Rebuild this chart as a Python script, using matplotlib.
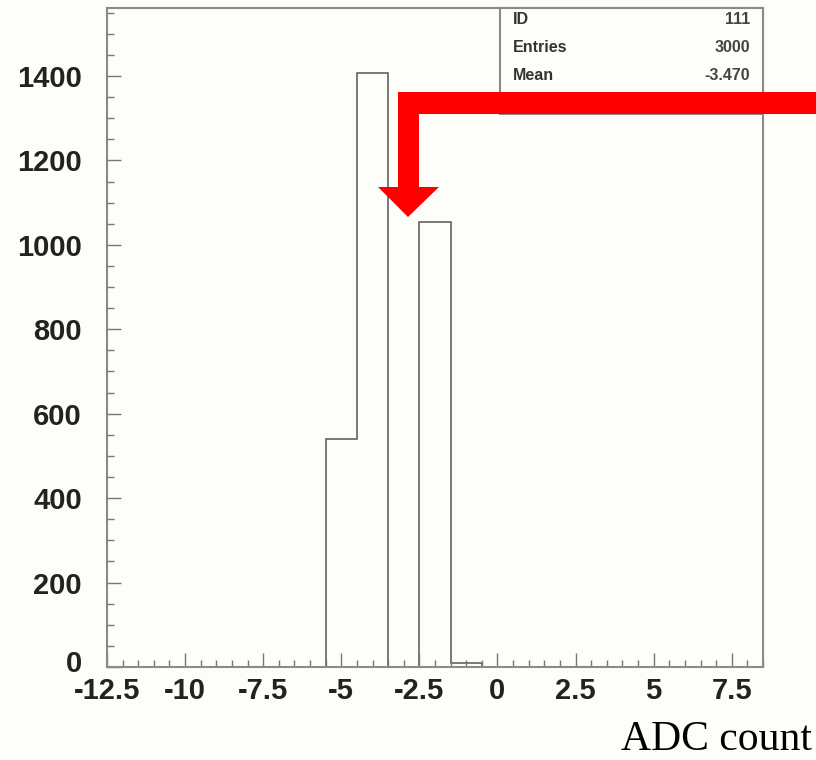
import numpy as np
import matplotlib
matplotlib.use("Agg")
import matplotlib.pyplot as plt
import matplotlib.transforms as mtransforms
from matplotlib.patches import Polygon, Rectangle

# histogram contents (ADC count bins, width 1)
bin_edges = [-5.5, -4.5, -3.5, -2.5, -1.5, -0.5]
counts = [540, 1406, 0, 1055, 10]

# stats box
stat_names = ["ID", "Entries", "Mean"]
stat_values = ["111", "3000", "-3.470"]

xticks = [-12.5, -10, -7.5, -5, -2.5, 0, 2.5, 5, 7.5]
xticklabels = ["-12.5", "-10", "-7.5", "-5", "-2.5", "0", "2.5", "5", "7.5"]
yticks = [0, 200, 400, 600, 800, 1000, 1200, 1400]

bg = "#fdfdf9"
W, H = 816, 760

fig = plt.figure(figsize=(W / 100, H / 100), dpi=100, facecolor=bg)
ax = fig.add_axes([107 / W, (H - 667) / H, 656 / W, 659 / H], facecolor=bg)

ax.stairs(counts, bin_edges, color="#555555", linewidth=1.1)

ax.set_xlim(-12.5, 8.5)
ax.set_ylim(0, 1561)

ax.set_xticks(xticks)
ax.set_xticklabels(xticklabels)
ax.set_xticks(np.arange(-12.5, 8.51, 0.5), minor=True)
ax.set_yticks(yticks)
ax.set_yticks(np.arange(0, 1561, 50), minor=True)

for s in ax.spines.values():
    s.set_color("#8a8a8a")
    s.set_linewidth(1.5)

ax.tick_params(which="both", direction="in", color="#777777", width=1.0,
               top=False, right=False)
ax.tick_params(which="major", length=10)
ax.tick_params(which="minor", length=5)
ax.tick_params(axis="y", which="major", pad=18)
ax.tick_params(axis="x", which="major", pad=7)
for lab in ax.get_xticklabels() + ax.get_yticklabels():
    lab.set_fontfamily("Liberation Sans")
    lab.set_fontweight("bold")
    lab.set_fontsize(21)
    lab.set_color("#222222")

# the "0" label sits just above the x labels, as in ROOT output
zero_lab = ax.get_yticklabels()[0]
zero_lab.set_transform(zero_lab.get_transform() +
                       mtransforms.ScaledTranslation(0, 4 / 72, fig.dpi_scale_trans))

# stats box in the upper right corner
bx0, by0, bx1, by1 = 500, 8, 763, 114
ax_box = Rectangle((bx0 / W, 1 - by1 / H), (bx1 - bx0) / W, (by1 - by0) / H,
                   transform=fig.transFigure, facecolor=bg,
                   edgecolor="#8a8a8a", linewidth=1.5, zorder=5)
fig.patches.append(ax_box)
row_y = [19, 47, 75]
for name, val, yy in zip(stat_names, stat_values, row_y):
    fig.text(513 / W, 1 - yy / H, name, ha="left", va="center",
             fontsize=11.5, fontweight="bold", color="#333333",
             family="Liberation Sans", zorder=6)
    fig.text(750 / W, 1 - yy / H, val, ha="right", va="center",
             fontsize=11.5, fontweight="bold", color="#444444",
             family="Liberation Sans", zorder=6)

# red arrow overlay (pixel outline of the annotation)
arrow_px = [(816, 92), (398, 92), (398, 187), (378, 187), (408, 217),
            (439, 187), (419, 187), (419, 114), (816, 114)]
arrow = Polygon([(x / W, 1 - y / H) for x, y in arrow_px], closed=True,
                transform=fig.transFigure, facecolor="#ff0000",
                edgecolor="none", zorder=10)
fig.patches.append(arrow)

fig.text(812 / W, 1 - 750 / H, "ADC count", ha="right", va="baseline",
         fontsize=30, family="Liberation Serif", color="black")

fig.savefig("out.png", dpi=100, facecolor=bg)
